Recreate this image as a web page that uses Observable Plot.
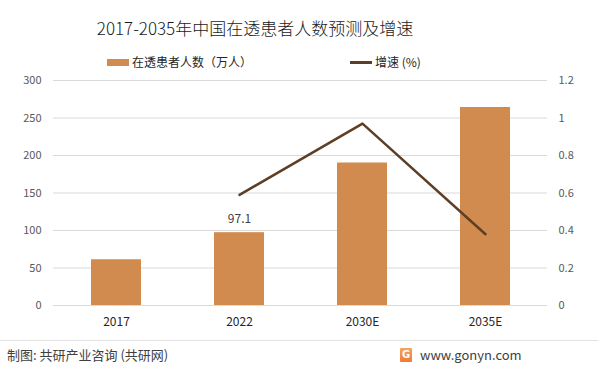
<!DOCTYPE html>
<html>
<head>
<meta charset="utf-8">
<script src="https://cdn.jsdelivr.net/npm/d3@7"></script>
<script src="https://cdn.jsdelivr.net/npm/@observablehq/plot@0.6"></script>
<style>
  html, body { margin: 0; padding: 0; background: #fff; }
  #wrap { position: relative; width: 598px; height: 371px; overflow: hidden; font-family: "Noto Sans CJK SC", "Noto Sans", sans-serif; }
  #chart { position: absolute; left: 0; top: 0; }
  .abs { position: absolute; white-space: nowrap; }
  #title { left: 0; width: 510px; top: 16px; text-align: center; font-size: 17px; font-weight: 300; color: #1a1a1a; line-height: 24px; }
  .leg { top: 53px; font-size: 12px; color: #262626; line-height: 18px; display: flex; align-items: center; }
  .sw-bar { display: inline-block; width: 22px; height: 7px; background: #d28b4f; margin-right: 3px; }
  .sw-line { display: inline-block; width: 22px; height: 3px; background: #5e3f26; margin-right: 3px; }
  #sep { left: 0; top: 340px; width: 598px; height: 1px; background: #e2e2e2; }
  #src { left: 7px; top: 345px; font-size: 13px; color: #404040; line-height: 20px; }
  #site { left: 400px; top: 345px; font-size: 13px; color: #404040; line-height: 20px; display: flex; align-items: center; }
  .logo { display: inline-block; width: 12px; height: 14px; background: linear-gradient(#f6a35b, #ef7b35); color: #fff; font: bold 10px/14px "DejaVu Sans", sans-serif; text-align: center; margin-right: 8px; border-radius: 1px; }
</style>
</head>
<body>
<div id="wrap">
  <div id="chart"></div>
  <div id="title" class="abs">2017-2035年中国在透患者人数预测及增速</div>
  <div class="abs leg" style="left:107px"><span class="sw-bar"></span>在透患者人数（万人）</div>
  <div class="abs leg" style="left:350px"><span class="sw-line"></span>增速 (%)</div>
  <div id="sep" class="abs"></div>
  <div id="src" class="abs">制图: 共研产业咨询 (共研网)</div>
  <div id="site" class="abs"><span class="logo">G</span>www.gonyn.com</div>
</div>
<script>
const years = ["2017", "2022", "2030E", "2035E"];
const patients = [61, 97.1, 190, 264];
const growthYears = ["2022", "2030E", "2035E"];
const growth = [0.59, 0.97, 0.38];
const leftTicks = [0, 50, 100, 150, 200, 250, 300];
const rightTicks = [0, 0.2, 0.4, 0.6, 0.8, 1, 1.2];
const labelYears = ["2022"];
const labelValues = [97.1];

const ratio = 300 / 1.2; // right axis maps onto left axis
const barData = years.map((y, i) => ({year: y, value: patients[i]}));
const lineData = growthYears.map((y, i) => ({year: y, value: growth[i] * ratio}));
const labelData = labelYears.map((y, i) => ({year: y, value: labelValues[i]}));

const plot = Plot.plot({
  width: 598,
  height: 371,
  marginTop: 80,
  marginBottom: 66,
  marginLeft: 53,
  marginRight: 51,
  style: {fontFamily: "'Noto Sans CJK SC', 'Noto Sans', sans-serif", background: "transparent"},
  x: {domain: years, paddingInner: 0.595, paddingOuter: 0.2975, label: null},
  y: {domain: [0, 300], label: null},
  marks: [
    Plot.gridY(leftTicks, {stroke: "#d9d9d9", strokeOpacity: 1, strokeWidth: 1}),
    Plot.axisY(leftTicks, {anchor: "left", tickSize: 0, tickPadding: 12, label: null, fill: "#595959", fontSize: 11}),
    Plot.axisY(rightTicks.map(d => d * ratio), {anchor: "right", tickSize: 0, tickPadding: 11, label: null, fill: "#595959", fontSize: 11, tickFormat: d => String(+(d / ratio).toFixed(1))}),
    Plot.barY(barData, {x: "year", y: "value", fill: "#d28b4f"}),
    Plot.lineY(lineData, {x: "year", y: "value", stroke: "#5e3f26", strokeWidth: 2.5}),
    Plot.text(labelData, {x: "year", y: "value", text: d => String(d.value), dy: -14, fill: "#404040", fontSize: 12}),
    Plot.axisX({tickSize: 0, tickPadding: 12, label: null, fill: "#262626", fontSize: 12})
  ]
});
document.getElementById("chart").appendChild(plot);
</script>
</body>
</html>
